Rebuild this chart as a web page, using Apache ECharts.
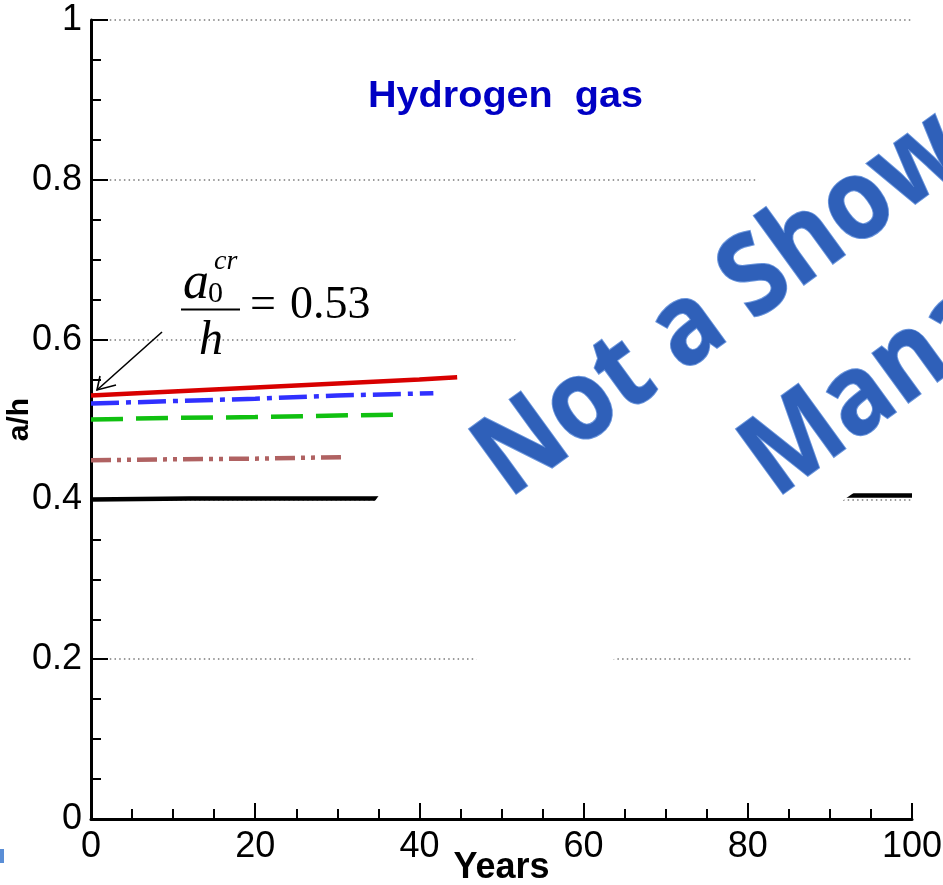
<!DOCTYPE html>
<html>
<head>
<meta charset="utf-8">
<script src="https://cdn.jsdelivr.net/npm/echarts@6/dist/echarts.min.js"></script>
<style>
  html, body { margin: 0; padding: 0; background: #fff; }
  #chart { width: 943px; height: 885px; }
</style>
</head>
<body>
<div id="chart"></div>
<script>
// Axis ranges and ticks
const yearTicks = [0, 20, 40, 60, 80, 100];
const ratioTicks = [0, 0.2, 0.4, 0.6, 0.8, 1];

// Crack depth ratio a/h over time, one curve per initial depth
const redYears   = [0, 10, 20, 30, 40, 44.6];
const redRatio   = [0.530, 0.535, 0.540, 0.545, 0.550, 0.553];

const blueYears  = [0, 10, 20, 30, 41.7];
const blueRatio  = [0.520, 0.523, 0.526, 0.530, 0.533];

const greenYears = [0, 10, 20, 30, 37.6];
const greenRatio = [0.500, 0.502, 0.503, 0.505, 0.506];

const brownYears = [0, 8, 20, 31];
const brownRatio = [0.449, 0.450, 0.451, 0.453];

const blackYears = [0, 12, 34, 93, 100];
const blackRatio = [0.400, 0.401, 0.401, 0.405, 0.405];

const pairs = (xs, ys) => xs.map((x, i) => [x, ys[i]]);

const SANS = 'Arial, "Liberation Sans", sans-serif';
const SERIF = '"Times New Roman", "Liberation Serif", serif';

function curve(xs, ys, color, width, dash) {
  return {
    type: 'line',
    data: pairs(xs, ys),
    showSymbol: false,
    symbol: 'none',
    smooth: false,
    z: 3,
    lineStyle: { color: color, width: width, type: dash || 'solid', cap: 'butt' }
  };
}

// Text placed by its left baseline point (k ~ distance from baseline to the canvas middle line, in em)
function baselineText(str, x, y, size, font, k, extra) {
  return Object.assign({
    type: 'text',
    x: x,
    y: y - k * size,
    z: 80,
    style: { text: str, font: font.replace('%s', size + 'px'), fill: '#000', align: 'left', verticalAlign: 'middle' }
  }, extra || {});
}

// Stamp lettering runs up to the right at 36 degrees
const ang = 36 * Math.PI / 180;
const up = (px, py, d) => [px - Math.sin(ang) * d, py - Math.cos(ang) * d];
const wm1 = up(503, 491, 22);
const wm2 = up(770, 491, 22);
function stamp(str, pos) {
  return {
    type: 'text', x: pos[0], y: pos[1], rotation: ang, z: 90,
    scaleX: 0.9,
    style: {
      text: str, font: 'bold 112px "Open Sans", sans-serif',
      fill: '#2f60b9', stroke: '#6a95dc', lineWidth: 2,
      align: 'left', verticalAlign: 'middle'
    }
  };
}

const chart = echarts.init(document.getElementById('chart'), null, { renderer: 'canvas' });

chart.setOption({
  animation: false,
  backgroundColor: '#fff',
  grid: { left: 91, right: 31, top: 20, bottom: 66, containLabel: false, outerBoundsMode: 'none' },
  xAxis: {
    type: 'value',
    min: yearTicks[0],
    max: yearTicks[yearTicks.length - 1],
    interval: yearTicks[1] - yearTicks[0],
    name: 'Years',
    nameLocation: 'middle',
    nameGap: 31,
    nameMoveOverlap: false,
    nameTextStyle: { fontFamily: SANS, fontSize: 36, fontWeight: 'bold', color: '#000' },
    axisLine: { show: true, onZero: false, lineStyle: { color: '#000', width: 3 } },
    axisTick: { show: true, inside: true, length: 16, lineStyle: { color: '#000', width: 2 } },
    minorTick: { show: true, splitNumber: 4, length: 10, lineStyle: { color: '#000', width: 2 } },
    axisLabel: { fontFamily: SANS, fontSize: 36, color: '#000', margin: 10 },
    splitLine: { show: false }
  },
  yAxis: {
    type: 'value',
    min: ratioTicks[0],
    max: ratioTicks[ratioTicks.length - 1],
    interval: ratioTicks[1] - ratioTicks[0],
    name: 'a/h',
    nameLocation: 'middle',
    nameGap: 56,
    nameMoveOverlap: false,
    nameTextStyle: { fontFamily: SANS, fontSize: 30, fontWeight: 'bold', color: '#000' },
    axisLine: { show: true, onZero: false, lineStyle: { color: '#000', width: 3 } },
    axisTick: { show: true, inside: true, length: 17, lineStyle: { color: '#000', width: 2 } },
    minorTick: { show: true, splitNumber: 4, length: 10, lineStyle: { color: '#000', width: 2 } },
    axisLabel: { fontFamily: SANS, fontSize: 36, color: '#000', margin: 9 },
    splitLine: { show: true, lineStyle: { color: '#7a7a7a', width: 1.5, type: [1.5, 3.2] } }
  },
  series: [
    curve(blackYears, blackRatio, '#000000', 4.5),
    curve(brownYears, brownRatio, '#b06262', 4.5, [20, 6, 4, 6, 4, 6]),
    curve(greenYears, greenRatio, '#10c010', 4.5, [32, 13]),
    curve(blueYears, blueRatio, '#3030ff', 4.5, [28, 7, 5, 7]),
    curve(redYears, redRatio, '#d80000', 4.5)
  ],
  graphic: [
    // white backing of the stamp
    {
      type: 'polygon', z: 50,
      shape: { points: [[372, 505], [470, 370], [760, 178], [915, 178], [915, 492], [855, 492], [610, 662], [478, 662]] },
      style: { fill: '#ffffff' }
    },
    stamp('Not a Showstopper', wm1),
    stamp('Manageable', wm2),
    // slide edge
    { type: 'rect', z: 40, shape: { x: 0, y: 849, width: 4, height: 14 }, style: { fill: '#5a8ed6' } },
    // title
    baselineText('Hydrogen  gas', 368, 110, 36, 'bold %s ' + SANS, 0.35, { scaleX: 1.1, style: { text: 'Hydrogen  gas', font: 'bold 36px ' + SANS, fill: '#0000c4', align: 'left', verticalAlign: 'middle' } }),
    // critical depth annotation
    baselineText('a', 183, 302, 52, 'italic %s ' + SERIF, 0.34),
    baselineText('0', 208, 304, 30, '%s ' + SERIF, 0.34),
    baselineText('cr', 214, 271, 28, 'italic %s ' + SERIF, 0.34),
    { type: 'line', z: 80, shape: { x1: 181, y1: 309.5, x2: 240, y2: 309.5 }, style: { stroke: '#000', lineWidth: 2 } },
    baselineText('h', 199, 358, 48, 'italic %s ' + SERIF, 0.34),
    baselineText('=', 250, 322, 46, '%s ' + SERIF, 0.34),
    baselineText('0.53', 290, 322, 46, '%s ' + SERIF, 0.34),
    { type: 'line', z: 80, shape: { x1: 162, y1: 332, x2: 97, y2: 390 }, style: { stroke: '#000', lineWidth: 1.6 } },
    { type: 'polyline', z: 80, shape: { points: [[100, 376], [97, 390], [116, 385]] }, style: { stroke: '#000', lineWidth: 1.6, fill: null } }
  ]
});
</script>
</body>
</html>
